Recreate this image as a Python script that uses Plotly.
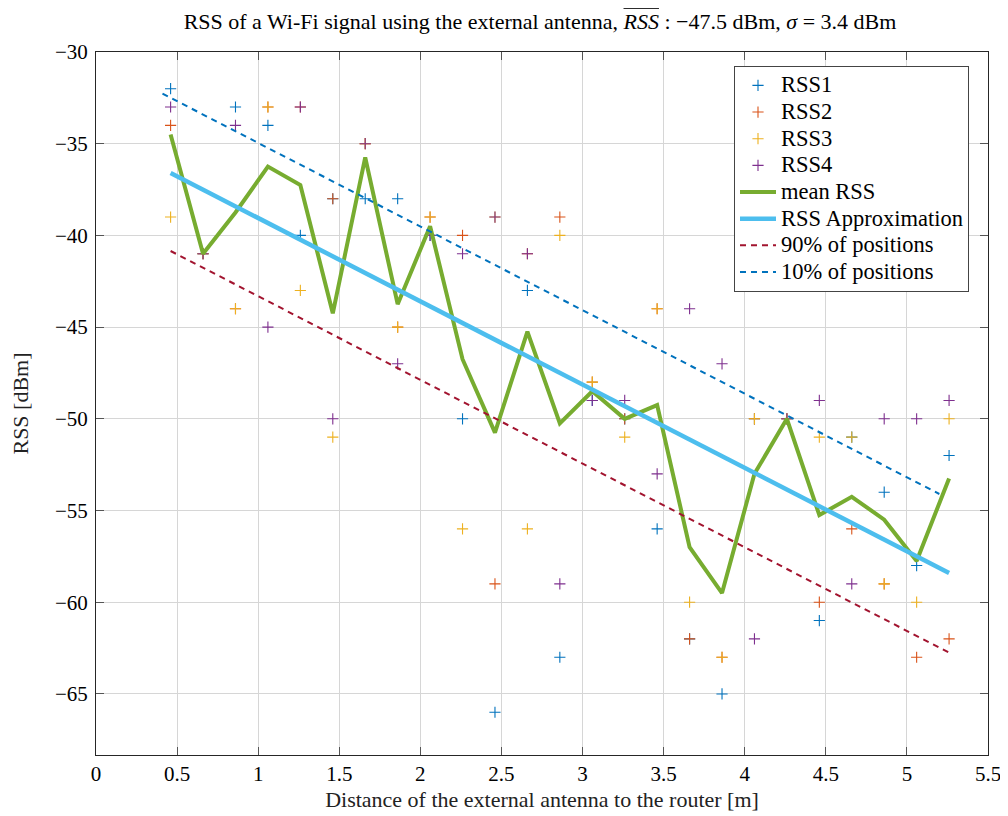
import plotly.graph_objects as go

# ---------------- data ----------------
distance = [0.46, 0.66, 0.86, 1.06, 1.26, 1.46, 1.66, 1.86, 2.06, 2.26,
            2.46, 2.66, 2.86, 3.06, 3.26, 3.46, 3.66, 3.86, 4.06, 4.26,
            4.46, 4.66, 4.86, 5.06, 5.26]

rss1 = [-32, -41, -33, -34, -40, -38, -38, -38, -40, -50,
        -66, -43, -63, -49, -50, -56, -62, -65, -50, -50,
        -61, -51, -54, -58, -52]
rss2 = [-34, -41, -44, -33, -33, -38, -35, -45, -39, -40,
        -59, -41, -39, -48, -50, -44, -62, -63, -50, -50,
        -60, -56, -59, -63, -62]
rss3 = [-39, -41, -44, -33, -43, -51, -35, -45, -39, -56,
        -39, -56, -40, -48, -51, -44, -60, -63, -50, -50,
        -51, -51, -59, -60, -50]
rss4 = [-33, -41, -34, -45, -33, -50, -35, -47, -40, -41,
        -39, -41, -59, -49, -49, -53, -44, -47, -62, -50,
        -49, -59, -50, -50, -49]

mean_rss = [-34.5, -41.0, -38.75, -36.25, -37.25, -44.25, -35.75, -43.75, -39.5, -46.75,
            -50.75, -45.25, -50.25, -48.5, -50.0, -49.25, -57.0, -59.5, -53.0, -50.0,
            -55.25, -54.25, -55.5, -57.75, -53.25]

approx_x = [0.46, 5.26]
approx_y = [-36.6, -58.4]

p90_x = [0.46, 5.26]
p90_y = [-40.85, -62.75]

p10_x = [0.41, 5.20]
p10_y = [-32.27, -54.1]

x_ticks = [0, 0.5, 1, 1.5, 2, 2.5, 3, 3.5, 4, 4.5, 5, 5.5]
y_ticks = [-65, -60, -55, -50, -45, -40, -35, -30]

# ---------------- styling ----------------
C_BLUE = "#0072BD"
C_ORANGE = "#D95319"
C_YELLOW = "#EDB120"
C_PURPLE = "#7E2F8E"
C_GREEN = "#77AC30"
C_LBLUE = "#4DBEEE"
C_RED = "#A2142F"

SERIF = "Liberation Serif, Times New Roman, serif"
LEG = "<span style='font-family:Liberation Serif,serif;font-size:22.5px'>{}</span>"

fig = go.Figure()

for name, vals, col in [("RSS1", rss1, C_BLUE), ("RSS2", rss2, C_ORANGE),
                        ("RSS3", rss3, C_YELLOW), ("RSS4", rss4, C_PURPLE)]:
    fig.add_trace(go.Scatter(
        x=distance, y=vals, mode="markers", name=LEG.format(name),
        marker=dict(symbol="cross-thin", size=8, line=dict(color=col, width=1.1)),
    ))

fig.add_trace(go.Scatter(x=distance, y=mean_rss, mode="lines", name=LEG.format("mean RSS"),
                         line=dict(color=C_GREEN, width=4)))
fig.add_trace(go.Scatter(x=approx_x, y=approx_y, mode="lines",
                         name=LEG.format("RSS Approximation"),
                         line=dict(color=C_LBLUE, width=4.5)))
fig.add_trace(go.Scatter(x=p90_x, y=p90_y, mode="lines", name=LEG.format("90% of positions"),
                         line=dict(color=C_RED, width=2, dash="6px,5px")))
fig.add_trace(go.Scatter(x=p10_x, y=p10_y, mode="lines", name=LEG.format("10% of positions"),
                         line=dict(color=C_BLUE, width=2, dash="6px,5px")))

axis_common = dict(
    showgrid=True, gridcolor="#d6d6d6", gridwidth=1,
    showline=True, linecolor="#262626", linewidth=1, mirror="ticks",
    ticks="inside", ticklen=8, tickcolor="#555555", tickwidth=1,
    zeroline=False, automargin=False,
    tickfont=dict(family=SERIF, size=21, color="#000000"),
)

# page body has an 8px margin, so the figure is offset by 8px
fig.update_layout(
    width=1000, height=808,
    margin=dict(l=88, r=20, t=44, b=61),
    paper_bgcolor="white", plot_bgcolor="white",
    title=dict(
        text=("RSS of a Wi-Fi signal using the external antenna, "
              "<span style='text-decoration:overline'><i>RSS</i></span> : "
              "\u221247.5 dBm, <i>\u03c3</i> = 3.4 dBm"),
        x=0.532, xanchor="center", y=0.984, yanchor="middle",
        font=dict(family=SERIF, size=22, color="#000000"),
    ),
    xaxis=dict(range=[0, 5.5], tickvals=x_ticks,
               title=dict(text="Distance of the external antenna to the router [m]",
                          font=dict(family=SERIF, size=22, color="#222222"), standoff=6),
               **axis_common),
    yaxis=dict(range=[-68.33, -30], tickvals=y_ticks, ticklabelstandoff=3,
               title=dict(text="RSS [dBm]",
                          font=dict(family=SERIF, size=22, color="#222222"), standoff=21),
               **axis_common),
    legend=dict(
        x=0.9787, xanchor="right", y=0.980, yanchor="top",
        bgcolor="white", bordercolor="#444444", borderwidth=1,
        font=dict(family=SERIF, size=18.2, color="#000000"),
        itemwidth=36, tracegroupgap=0,
    ),
    showlegend=True,
)

fig.write_html("out.html")
